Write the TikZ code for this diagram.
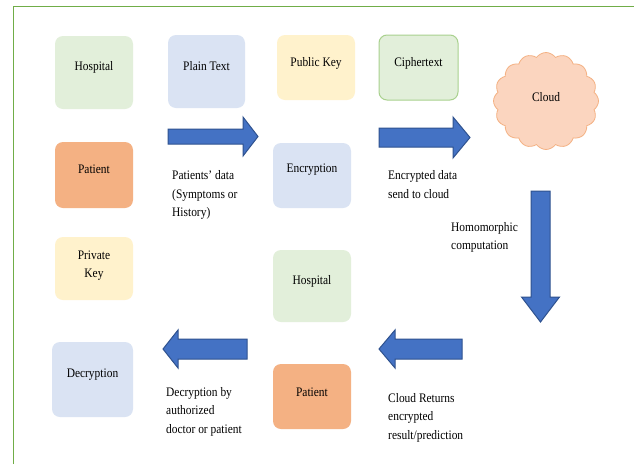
\documentclass[tikz,border=0pt]{standalone}
\usepackage{fontspec}
\setmainfont{Liberation Serif}[FakeStretch=0.88]
\usetikzlibrary{shapes.symbols}
\definecolor{boxgreen}{HTML}{E2EFDA}
\definecolor{boxblue}{HTML}{DAE3F3}
\definecolor{boxyellow}{HTML}{FFF2CC}
\definecolor{boxorange}{HTML}{F4B183}
\definecolor{cipherline}{HTML}{A9D18E}
\definecolor{cloudfill}{HTML}{FBD5BF}
\definecolor{cloudline}{HTML}{F4B183}
\definecolor{arrowfill}{HTML}{4472C4}
\definecolor{arrowline}{HTML}{2F528F}
\definecolor{framegreen}{HTML}{70AD47}
\begin{document}
\begin{tikzpicture}[x=1pt,y=-1pt,
  box/.style={rounded corners=8pt, inner sep=0pt, draw=none},
  lbl/.style={inner sep=0pt, align=center, font=\fontsize{13}{18.5}\selectfont},
  note/.style={inner sep=0pt, align=left, anchor=north west, font=\fontsize{13}{18.5}\selectfont},
  blockarrow/.style={fill=arrowfill, draw=arrowline, line width=1pt, line join=miter}]
\useasboundingbox (0,0) rectangle (638,464);
\fill[white] (0,0) rectangle (638,464);
\draw[framegreen, line width=1.5pt] (13.5,464) -- (13.5,6.5) -- (634,6.5);

% boxes
\node[box, fill=boxgreen, minimum width=78pt, minimum height=73pt] (hosp1) at (94,72.5) {};
\node[lbl] at ([yshift=5pt]hosp1.center) {Hospital};
\node[box, fill=boxblue, minimum width=77pt, minimum height=73pt] (plain) at (206.5,71.5) {};
\node[lbl] at ([yshift=5pt]plain.center) {Plain Text};
\node[box, fill=boxyellow, minimum width=78pt, minimum height=65pt] (pub) at (316,67.5) {};
\node[lbl] at ([yshift=4.5pt]pub.center) {Public Key};
\node[box, fill=boxgreen, draw=cipherline, line width=1pt, minimum width=79pt, minimum height=65pt] (cipher) at (418.5,67.5) {};
\node[lbl] at ([yshift=4.5pt]cipher.center) {Ciphertext};
\node[cloud, cloud puffs=16, cloud puff arc=110, aspect=1.1, fill=cloudfill, draw=cloudline, line width=0.8pt, minimum width=105pt, minimum height=97pt, inner sep=0pt] (cloud) at (546,101) {};
\node[lbl] at ([yshift=4pt]cloud.center) {Cloud};

\node[box, fill=boxorange, minimum width=78pt, minimum height=66pt] (pat1) at (94,175) {};
\node[lbl] at ([yshift=6pt]pat1.center) {Patient};
\node[box, fill=boxblue, minimum width=78pt, minimum height=65pt] (enc) at (312,175.5) {};
\node[lbl] at ([yshift=5.5pt]enc.center) {Encryption};

\node[box, fill=boxyellow, minimum width=78pt, minimum height=63pt] (priv) at (94,268.5) {};
\node[lbl] at ([yshift=3pt]priv.center) {Private\\Key};
\node[box, fill=boxgreen, minimum width=78pt, minimum height=72pt] (hosp2) at (312,286) {};
\node[lbl] at ([yshift=5pt]hosp2.center) {Hospital};
\node[box, fill=boxorange, minimum width=78pt, minimum height=65pt] (pat2) at (312,396.5) {};
\node[lbl] at ([yshift=4.5pt]pat2.center) {Patient};
\node[box, fill=boxblue, minimum width=81pt, minimum height=75pt] (dec) at (92.5,379.5) {};
\node[lbl] at ([yshift=4.5pt]dec.center) {Decryption};

% block arrows
\filldraw[blockarrow] (168,129) -- (243,129) -- (243,117) -- (258,136.5) -- (243,156) -- (243,144) -- (168,144) -- cycle;
\filldraw[blockarrow] (379,128) -- (453,128) -- (453,117) -- (470,137.5) -- (453,158) -- (453,147) -- (379,147) -- cycle;
\filldraw[blockarrow] (531,191) -- (550,191) -- (550,297) -- (559.5,297) -- (540.5,322) -- (521.5,297) -- (531,297) -- cycle;
\filldraw[blockarrow] (247,339) -- (178,339) -- (178,330) -- (163,349) -- (178,368) -- (178,359) -- (247,359) -- cycle;
\filldraw[blockarrow] (462,339) -- (395,339) -- (395,330) -- (379,349) -- (395,368) -- (395,359) -- (462,359) -- cycle;

% notes
\node[note] (n1) at (172,170.5) {Patients’ data\\(Symptoms or\\History)};
\node[note] (n2) at (388,170.5) {Encrypted data\\send to cloud};
\node[note] (n3) at (451,222) {Homomorphic\\computation};
\node[note] (n4) at (166,387) {Decryption by\\authorized\\doctor or patient};
\node[note] (n5) at (388,393) {Cloud Returns\\encrypted\\result/prediction};
\end{tikzpicture}
\end{document}
